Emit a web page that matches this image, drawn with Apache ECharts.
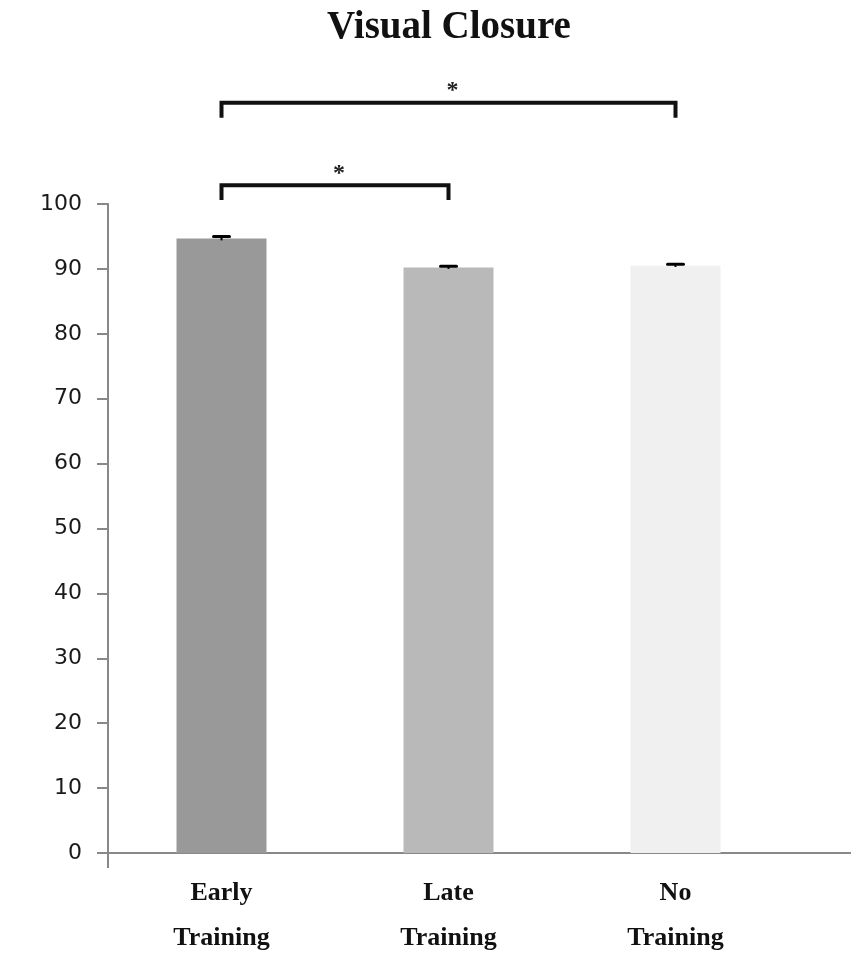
<!DOCTYPE html>
<html>
<head>
<meta charset="utf-8">
<script src="https://cdn.jsdelivr.net/npm/echarts@6/dist/echarts.min.js"></script>
<style>html,body{margin:0;padding:0;background:#fff}#c{width:851px;height:965px}</style>
</head>
<body>
<div id="c"></div>
<script>
// ---- data ----
const titleText = 'Visual Closure';
const categories = ['Early\nTraining', 'Late\nTraining', 'No\nTraining'];
const means = [94.7, 90.2, 90.5];
const errors = [0.3, 0.2, 0.2];
const barColors = ['#999999', '#b9b9b9', '#f0f0f0'];
const yTicks = [0, 10, 20, 30, 40, 50, 60, 70, 80, 90, 100];
// significance brackets: from category, to category, bracket level, tip level, star level
const sigFrom = [0, 0];
const sigTo = [1, 2];
const sigLevel = [102.9, 115.6];
const sigTip = [100.6, 113.3];
const sigStarLevel = [104.6, 117.4];
const sigLabel = ['*', '*'];

const chart = echarts.init(document.getElementById('c'), null, {renderer: 'canvas'});

const barData = means.map((v, i) => ({value: v, itemStyle: {color: barColors[i]}}));
const errData = means.map((v, i) => [i, v, errors[i]]);
const sigData = sigFrom.map((f, i) => [f, sigTo[i], sigLevel[i], sigTip[i], sigStarLevel[i], sigLabel[i]]);
const axisColor = '#888';

chart.setOption({
  animation: false,
  backgroundColor: '#ffffff',
  title: {
    text: titleText,
    left: 444, top: 3, textAlign: 'center',
    textStyle: {fontFamily: 'Liberation Serif', fontWeight: 'bold', fontSize: 39, color: '#111'}
  },
  grid: {left: 108, right: 62, top: 204, bottom: 112, containLabel: false},
  xAxis: {
    type: 'category',
    data: categories,
    boundaryGap: true,
    axisLine: {lineStyle: {color: axisColor, width: 2}},
    axisTick: {show: false},
    axisLabel: {
      margin: 18, fontFamily: 'Liberation Serif', fontWeight: 'bold', fontSize: 26,
      lineHeight: 45, color: '#111'
    }
  },
  yAxis: {
    type: 'value', min: 0, max: 100, interval: 10,
    splitLine: {show: false},
    axisLine: {show: true, lineStyle: {color: axisColor, width: 2}},
    axisTick: {show: true, length: 11, lineStyle: {color: axisColor, width: 2}},
    axisLabel: {margin: 26, fontFamily: 'DejaVu Sans', fontSize: 22, color: '#1a1a1a',
      formatter: (v) => yTicks.includes(v) ? String(v) : ''}
  },
  series: [
    {
      type: 'bar', data: barData, barWidth: 90, z: 2
    },
    {
      // axis decorations: y-axis continues below the x-axis, x-axis continues to the right edge
      type: 'custom', z: 1, data: [[0, 0]], clip: false, silent: true,
      renderItem: (params, api) => {
        const first = api.coord([0, 0]);
        const last = api.coord([categories.length - 1, 0]);
        const band = api.size([1, 0])[0];
        const x0 = first[0] - band / 2;
        return {type: 'group', children: [
          {type: 'line', shape: {x1: x0, y1: first[1], x2: x0, y2: first[1] + 15}, style: {stroke: axisColor, lineWidth: 2}},
          {type: 'line', shape: {x1: last[0], y1: last[1], x2: api.getWidth(), y2: last[1]}, style: {stroke: axisColor, lineWidth: 2}}
        ]};
      }
    },
    {
      type: 'custom', z: 5, data: errData,
      renderItem: (params, api) => {
        const x = api.value(0), v = api.value(1), e = api.value(2);
        const hi = api.coord([x, v + e]);
        const lo = api.coord([x, v - e]);
        const w = 16;
        return {type: 'group', children: [
          {type: 'line', shape: {x1: hi[0], y1: hi[1], x2: lo[0], y2: lo[1]}, style: {stroke: '#000', lineWidth: 2}},
          {type: 'line', shape: {x1: hi[0] - w/2, y1: hi[1], x2: hi[0] + w/2, y2: hi[1]}, style: {stroke: '#000', lineWidth: 3, lineCap: 'round'}}
        ]};
      }
    },
    {
      type: 'custom', z: 5, data: sigData, clip: false,
      renderItem: (params, api) => {
        const a = api.value(0), b = api.value(1);
        const lvl = api.value(2), tip = api.value(3), sl = api.value(4);
        const p1 = api.coord([a, lvl]), p2 = api.coord([b, lvl]);
        const t1 = api.coord([a, tip]), t2 = api.coord([b, tip]);
        const sy = api.coord([a, sl])[1];
        const sx = (p1[0] + p2[0]) / 2 + 4;
        return {type: 'group', children: [
          {type: 'polyline', shape: {points: [t1, p1, p2, t2]}, style: {stroke: '#111', lineWidth: 4, fill: null, lineJoin: 'miter'}},
          {type: 'text', x: sx, y: sy, style: {text: sigData[params.dataIndex][5], fontFamily: 'Liberation Serif', fontWeight: 'bold', fontSize: 24, fill: '#222', align: 'center', verticalAlign: 'middle'}}
        ]};
      }
    }
  ]
});
</script>
</body>
</html>
